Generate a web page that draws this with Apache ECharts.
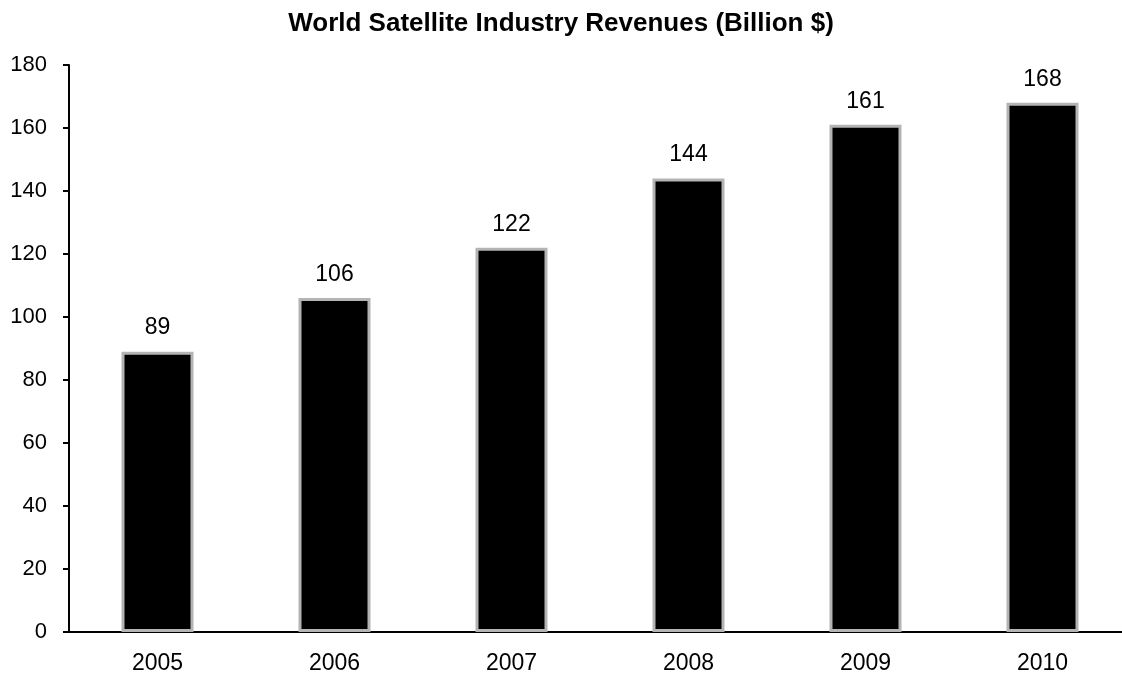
<!DOCTYPE html>
<html>
<head>
<meta charset="utf-8">
<script src="https://cdn.jsdelivr.net/npm/echarts@6/dist/echarts.min.js"></script>
<style>
  html, body { margin: 0; padding: 0; background: #fff; }
  #revenue { width: 1122px; height: 677px; }
</style>
</head>
<body>
<div id="revenue"></div>
<script>
// years and revenues (billion $)
const years = ['2005', '2006', '2007', '2008', '2009', '2010']
const revenues = [89, 106, 122, 144, 161, 168]
const yTicks = { min: 0, max: 180, interval: 20 }

const font = 'Liberation Sans, Arial, sans-serif'
const myChart = echarts.init(document.getElementById('revenue'))

const option = {
  backgroundColor: '#fff',
  animation: false,
  title: {
    text: 'World Satellite Industry Revenues (Billion $)',
    left: 'center',
    top: 6,
    textStyle: {
      fontFamily: font,
      fontWeight: 'bold',
      fontSize: 26,
      color: '#000'
    }
  },
  grid: {
    left: 69,
    top: 65,
    right: -9,
    height: 567,
    outerBoundsMode: 'none'
  },
  xAxis: {
    type: 'category',
    data: years,
    axisLine: { lineStyle: { color: '#000', width: 2 } },
    axisTick: { show: false },
    axisLabel: {
      margin: 20,
      fontFamily: font,
      fontSize: 23,
      color: '#000'
    }
  },
  yAxis: {
    type: 'value',
    min: yTicks.min,
    max: yTicks.max,
    interval: yTicks.interval,
    axisLine: { show: true, lineStyle: { color: '#000', width: 2 } },
    axisTick: { show: true, length: 6, lineStyle: { color: '#000', width: 2 } },
    splitLine: { show: false },
    axisLabel: {
      margin: 22,
      fontFamily: font,
      fontSize: 22,
      color: '#000'
    }
  },
  series: [
    {
      type: 'bar',
      data: revenues,
      barWidth: 72,
      itemStyle: {
        color: '#000',
        borderColor: '#b4b4b4',
        borderWidth: 3
      },
      label: {
        show: true,
        position: 'top',
        distance: 12,
        fontFamily: font,
        fontSize: 23,
        color: '#000'
      }
    }
  ]
}
myChart.setOption(option)
window.addEventListener('resize', () => {
  myChart.resize()
})
</script>
</body>
</html>
